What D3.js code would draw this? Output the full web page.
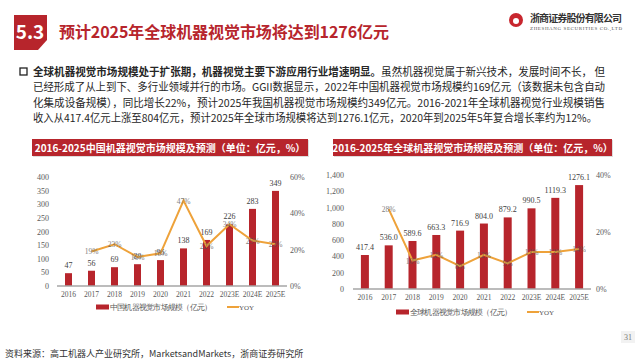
<!DOCTYPE html>
<html lang="zh">
<head>
<meta charset="utf-8">
<title>机器视觉市场规模</title>
<script src="https://cdn.jsdelivr.net/npm/d3@7"></script>
<style>
  body { margin: 0; background: #fff; }
  svg { display: block; }
  .cjk { font-family: "Noto Sans CJK SC", "Noto Sans", sans-serif; }
  .serif { font-family: "Liberation Serif", "DejaVu Serif", serif; }
</style>
</head>
<body>
<div id="vis"></div>
<script>

/* Data */
/* ==== */

var years = ['2016', '2017', '2018', '2019', '2020', '2021', '2022', '2023E', '2024E', '2025E'];

// China market, 亿元
var chinaSize = [47, 56, 69, 80, 95, 138, 169, 226, 283, 349];
var chinaYoy = [null, 0.19, 0.23, 0.16, 0.18, 0.47, 0.22, 0.34, 0.25, 0.23];

// Global market, 亿元
var globalSize = [417.4, 536.0, 589.6, 663.3, 716.9, 804.0, 879.2, 990.5, 1119.3, 1276.1];
var globalYoy = [null, 0.28, 0.10, 0.12, 0.08, 0.12, 0.09, 0.13, 0.13, 0.14];

var chinaTicks = [0, 50, 100, 150, 200, 250, 300, 350, 400];
var chinaPctTicks = [0, 0.2, 0.4, 0.6];
var globalTicks = [0, 200, 400, 600, 800, 1000, 1200, 1400];
var globalPctTicks = [0, 0.2, 0.4];

var RED = '#b7252c';
var ORANGE = '#eea23a';

var W = 644, H = 363;

var svg = d3.select('#vis').append('svg')
    .attr('width', W)
    .attr('height', H);


/* Header */
/* ====== */

svg.append('path')
    .attr('d', 'M14,15 L47,15 L47,40 L38,50 L14,50 Z')
    .attr('fill', RED);

svg.append('text')
    .attr('x', 30).attr('y', 39)
    .attr('text-anchor', 'middle')
    .attr('class', 'cjk')
    .attr('font-weight', 'bold')
    .attr('font-size', 19)
    .attr('fill', '#fff')
    .text('5.3');

svg.append('text')
    .attr('x', 59).attr('y', 38)
    .attr('class', 'cjk')
    .attr('font-weight', 'bold')
    .attr('font-size', 16)
    .attr('fill', RED)
    .attr('textLength', 330)
    .text('预计2025年全球机器视觉市场将达到1276亿元');

// logo
var logo = svg.append('g');
logo.append('circle').attr('cx', 516).attr('cy', 20).attr('r', 7).attr('fill', '#c8262e');
logo.append('circle').attr('cx', 516).attr('cy', 21).attr('r', 3).attr('fill', '#fff');
logo.append('text')
    .attr('x', 530).attr('y', 22)
    .attr('class', 'cjk')
    .attr('font-weight', 'bold')
    .attr('font-size', 10)
    .attr('textLength', 92)
    .attr('fill', '#333')
    .text('浙商证券股份有限公司');
logo.append('text')
    .attr('x', 530).attr('y', 30)
    .attr('class', 'serif')
    .attr('font-size', 5)
    .attr('textLength', 92)
    .attr('fill', '#555')
    .text('ZHESHANG SECURITIES CO.,LTD');


/* Paragraph */
/* ========= */

svg.append('rect')
    .attr('x', 20).attr('y', 68)
    .attr('width', 7).attr('height', 7)
    .attr('fill', 'none')
    .attr('stroke', '#222')
    .attr('stroke-width', 1.3);

var lines = [
  ['全球机器视觉市场规模处于扩张期，机器视觉主要下游应用行业增速明显。', '虽然机器视觉属于新兴技术，发展时间不长，  但'],
  ['', '已经形成了从上到下、多行业领域并行的市场。GGII数据显示，2022年中国机器视觉市场规模约169亿元（该数据未包含自动'],
  ['', '化集成设备规模），同比增长22%，预计2025年我国机器视觉市场规模约349亿元。2016-2021年全球机器视觉行业规模销售'],
  ['', '收入从417.4亿元上涨至804亿元，预计2025年全球市场规模将达到1276.1亿元，2020年到2025年5年复合增长率约为12%。']
];
var lineLen = [572, 572, 572, 564];

lines.forEach(function(l, i) {
  var t = svg.append('text')
      .attr('x', 33).attr('y', 76 + i * 15.3)
      .attr('class', 'cjk')
      .attr('font-size', 11)
      .attr('fill', '#262626')
      .attr('textLength', lineLen[i])
      .attr('lengthAdjust', 'spacingAndGlyphs');
  if (l[0]) t.append('tspan').attr('font-weight', 'bold').text(l[0]);
  t.append('tspan').text(l[1]);
});


/* Charts */
/* ====== */

function makeChart(o) {

  // header bar
  svg.append('rect')
      .attr('x', o.hx + 1).attr('y', 140)
      .attr('width', o.hw).attr('height', 17)
      .attr('fill', '#ddd');
  svg.append('rect')
      .attr('x', o.hx).attr('y', 139)
      .attr('width', o.hw).attr('height', 17)
      .attr('fill', RED);
  svg.append('text')
      .attr('x', o.hx + o.hw / 2).attr('y', 151.5)
      .attr('text-anchor', 'middle')
      .attr('class', 'cjk')
      .attr('font-weight', 'bold')
      .attr('font-size', 10)
      .attr('fill', '#fff')
      .text(o.title);

  var g = svg.append('g');

  var x = d3.scalePoint()
      .domain(years)
      .range([o.x0, o.x1])
      .padding(0.5);

  var y = d3.scaleLinear()
      .domain([0, o.yMax])
      .range([o.y0, o.y1]);

  var y2 = d3.scaleLinear()
      .domain([0, o.pMax])
      .range([o.y0, o.y1]);

  // left axis
  var yAxis = d3.axisLeft(y)
      .tickValues(o.ticks)
      .tickSize(0)
      .tickPadding(0)
      .tickFormat(d3.format(','));
  var ya = g.append('g')
      .attr('transform', 'translate(' + o.yLabelX + ',0)')
      .call(yAxis);

  // right axis
  var y2Axis = d3.axisRight(y2)
      .tickValues(o.pctTicks)
      .tickSize(0)
      .tickPadding(0)
      .tickFormat(d3.format('.0%'));
  var y2a = g.append('g')
      .attr('transform', 'translate(' + o.y2LabelX + ',0)')
      .call(y2Axis);

  [ya, y2a].forEach(function(a) {
    a.select('.domain').remove();
    a.selectAll('text')
        .attr('class', 'serif')
        .attr('font-size', 8)
        .attr('fill', '#595959');
  });

  // bars
  g.selectAll('.bar')
      .data(o.size)
      .enter().append('rect')
      .attr('class', 'bar')
      .attr('x', function(d, i) { return x(years[i]) - o.barW / 2; })
      .attr('y', function(d) { return y(d); })
      .attr('width', o.barW)
      .attr('height', function(d) { return y(0) - y(d); })
      .attr('fill', RED);

  // baseline
  g.append('line')
      .attr('x1', o.x0).attr('x2', o.x1)
      .attr('y1', o.y0).attr('y2', o.y0)
      .attr('stroke', '#a6a6a6')
      .attr('stroke-width', 1.5);

  // x labels
  g.selectAll('.xl')
      .data(years)
      .enter().append('text')
      .attr('class', 'serif')
      .attr('x', function(d) { return x(d); })
      .attr('y', o.y0 + 11)
      .attr('text-anchor', 'middle')
      .attr('font-size', 7.5)
      .attr('fill', '#595959')
      .text(function(d) { return d; });

  // value labels
  g.selectAll('.vl')
      .data(o.size)
      .enter().append('text')
      .attr('class', 'serif')
      .attr('x', function(d, i) { return x(years[i]); })
      .attr('y', function(d) { return y(d) - 5; })
      .attr('text-anchor', 'middle')
      .attr('font-size', 8)
      .attr('fill', '#404040')
      .text(function(d) { return o.fmt(d); });

  // YOY line
  var pts = o.yoy.map(function(d, i) { return { k: years[i], v: d }; })
      .filter(function(d) { return d.v !== null; });

  var line = d3.line()
      .x(function(d) { return x(d.k); })
      .y(function(d) { return y2(d.v); });

  g.append('path')
      .datum(pts)
      .attr('d', line)
      .attr('fill', 'none')
      .attr('stroke', ORANGE)
      .attr('stroke-width', 2);

  g.selectAll('.pl')
      .data(pts)
      .enter().append('text')
      .attr('class', 'serif')
      .attr('x', function(d) { return x(d.k); })
      .attr('y', function(d) { return y2(d.v) + 3; })
      .attr('text-anchor', 'middle')
      .attr('font-size', 7.5)
      .attr('fill', '#555')
      .attr('opacity', 0.75)
      .text(function(d) { return Math.round(d.v * 100) + '%'; });

  // legend
  var lg = svg.append('g').attr('transform', 'translate(' + o.lx + ',' + o.ly + ')');
  lg.append('rect')
      .attr('x', 0).attr('y', -2.5)
      .attr('width', 13).attr('height', 5)
      .attr('fill', RED);
  lg.append('text')
      .attr('x', 14).attr('y', 3)
      .attr('class', 'serif')
      .attr('font-size', 7.5)
      .attr('fill', '#595959')
      .attr('textLength', 102)
      .text(o.legend);
  lg.append('line')
      .attr('x1', 131).attr('x2', 143)
      .attr('y1', 0).attr('y2', 0)
      .attr('stroke', ORANGE)
      .attr('stroke-width', 2);
  lg.append('text')
      .attr('x', 143).attr('y', 3)
      .attr('class', 'serif')
      .attr('font-size', 7)
      .attr('fill', '#595959')
      .text('YOY');
}

makeChart({
  title: '2016-2025中国机器视觉市场规模及预测（单位：亿元，%）',
  hx: 32, hw: 276,
  x0: 57, x1: 287, y0: 286, y1: 177,
  yMax: 400, pMax: 0.6,
  ticks: chinaTicks, pctTicks: chinaPctTicks,
  yLabelX: 49, y2LabelX: 290,
  barW: 7,
  size: chinaSize, yoy: chinaYoy,
  fmt: d3.format('d'),
  legend: '中国机器视觉市场规模（亿元）',
  lx: 96, ly: 307
});

makeChart({
  title: '2016-2025年全球机器视觉市场规模及预测（单位：亿元，%）',
  hx: 333, hw: 279,
  x0: 353, x1: 591, y0: 289, y1: 175,
  yMax: 1400, pMax: 0.4,
  ticks: globalTicks, pctTicks: globalPctTicks,
  yLabelX: 344, y2LabelX: 596,
  barW: 8,
  size: globalSize, yoy: globalYoy,
  fmt: d3.format('.1f'),
  legend: '全球机器视觉市场规模（亿元）',
  lx: 396, ly: 312
});


/* Footer */
/* ====== */

svg.append('text')
    .attr('x', 5).attr('y', 357)
    .attr('class', 'cjk')
    .attr('font-size', 9)
    .attr('fill', '#333')
    .text('资料来源：高工机器人产业研究所，MarketsandMarkets，浙商证券研究所');

svg.append('rect')
    .attr('x', 621).attr('y', 331)
    .attr('width', 14).attr('height', 12)
    .attr('fill', '#f2f2f2');
svg.append('text')
    .attr('x', 628).attr('y', 340)
    .attr('text-anchor', 'middle')
    .attr('class', 'serif')
    .attr('font-size', 8)
    .attr('fill', '#777')
    .text('31');

</script>
</body>
</html>
